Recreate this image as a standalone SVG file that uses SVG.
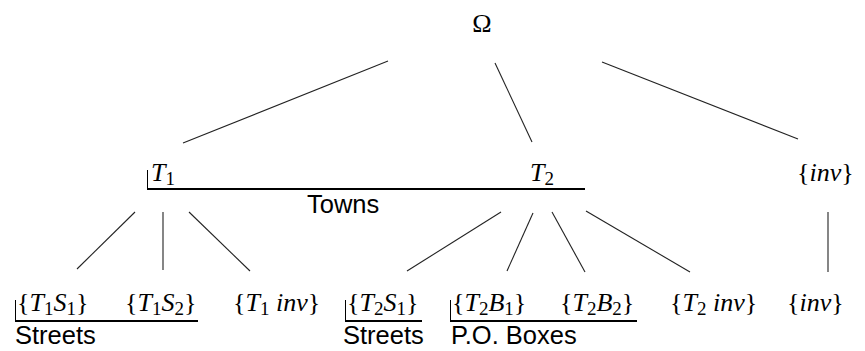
<svg xmlns="http://www.w3.org/2000/svg" width="865" height="351" viewBox="0 0 865 351">
<style>
.m{font-family:"Liberation Serif","DejaVu Serif",serif;font-size:26px;fill:#000}
.i{font-style:italic}
.s{font-size:19px}
.l{font-family:"Liberation Sans",Arial,sans-serif;font-size:25.5px;fill:#000}
.c{stroke:#222;stroke-width:1.1;fill:none}
.u{stroke:#000;stroke-width:2;fill:none}
.t{stroke:#000;stroke-width:1;fill:none}
</style>
<rect width="865" height="351" fill="#fff"/>
<g id="connectors">
<line class="c" x1="388" y1="61" x2="183" y2="143"/>
<line class="c" x1="495" y1="63" x2="532" y2="142"/>
<line class="c" x1="602" y1="62" x2="798" y2="139"/>
<line class="c" x1="135" y1="212" x2="77" y2="269"/>
<line class="c" x1="163" y1="212" x2="163" y2="270"/>
<line class="c" x1="189" y1="212" x2="250" y2="271"/>
<line class="c" x1="501" y1="212" x2="407" y2="271"/>
<line class="c" x1="533" y1="213" x2="507" y2="271"/>
<line class="c" x1="552" y1="212" x2="585" y2="272"/>
<line class="c" x1="586" y1="211" x2="690" y2="272"/>
<line class="c" x1="828" y1="212" x2="828" y2="272"/>
</g>
<g id="omega"><text class="m" x="482" y="32" text-anchor="middle" font-size="29">Ω</text></g>
<g id="T1"><text class="m i" x="151" y="181">T<tspan class="s" font-style="normal" dy="4">1</tspan></text></g>
<g id="T2"><text class="m i" x="530" y="181">T<tspan class="s" font-style="normal" dy="4">2</tspan></text></g>
<g id="inv-top"><text class="m" x="797" y="181">{<tspan class="i">inv</tspan>}</text></g>
<g id="towns-group">
<path class="t" d="M147.5 170 V189"/>
<line class="u" x1="147" y1="189" x2="585" y2="189"/>
<text class="l" x="307" y="213">Towns</text>
</g>
<g id="T1S1"><text class="m" x="17" y="311">{<tspan class="i">T</tspan><tspan class="s" dy="4">1</tspan><tspan class="i" dy="-4">S</tspan><tspan class="s" dy="4">1</tspan><tspan dy="-4">}</tspan></text></g>
<g id="T1S2"><text class="m" x="125" y="311">{<tspan class="i">T</tspan><tspan class="s" dy="4">1</tspan><tspan class="i" dy="-4">S</tspan><tspan class="s" dy="4">2</tspan><tspan dy="-4">}</tspan></text></g>
<g id="T1inv"><text class="m" x="233" y="311">{<tspan class="i">T</tspan><tspan class="s" dy="4">1</tspan><tspan class="i" dy="-4"> inv</tspan>}</text></g>
<g id="T2S1"><text class="m" x="347" y="311">{<tspan class="i">T</tspan><tspan class="s" dy="4">2</tspan><tspan class="i" dy="-4">S</tspan><tspan class="s" dy="4">1</tspan><tspan dy="-4">}</tspan></text></g>
<g id="T2B1"><text class="m" x="452" y="311">{<tspan class="i">T</tspan><tspan class="s" dy="4">2</tspan><tspan class="i" dy="-4">B</tspan><tspan class="s" dy="4">1</tspan><tspan dy="-4">}</tspan></text></g>
<g id="T2B2"><text class="m" x="560" y="311">{<tspan class="i">T</tspan><tspan class="s" dy="4">2</tspan><tspan class="i" dy="-4">B</tspan><tspan class="s" dy="4">2</tspan><tspan dy="-4">}</tspan></text></g>
<g id="T2inv"><text class="m" x="670" y="311">{<tspan class="i">T</tspan><tspan class="s" dy="4">2</tspan><tspan class="i" dy="-4"> inv</tspan>}</text></g>
<g id="inv-bottom"><text class="m" x="787" y="311">{<tspan class="i">inv</tspan>}</text></g>
<g id="streets1">
<path class="t" d="M15.5 300 V321"/>
<line class="u" x1="15" y1="321" x2="198" y2="321"/>
<text class="l" x="15" y="344">Streets</text>
</g>
<g id="streets2">
<path class="t" d="M345.5 300 V321"/>
<line class="u" x1="345" y1="321" x2="422" y2="321"/>
<text class="l" x="343" y="344">Streets</text>
</g>
<g id="poboxes">
<path class="t" d="M450.5 300 V321"/>
<line class="u" x1="450" y1="321" x2="637" y2="321"/>
<text class="l" x="451" y="344">P.O. Boxes</text>
</g>
</svg>
